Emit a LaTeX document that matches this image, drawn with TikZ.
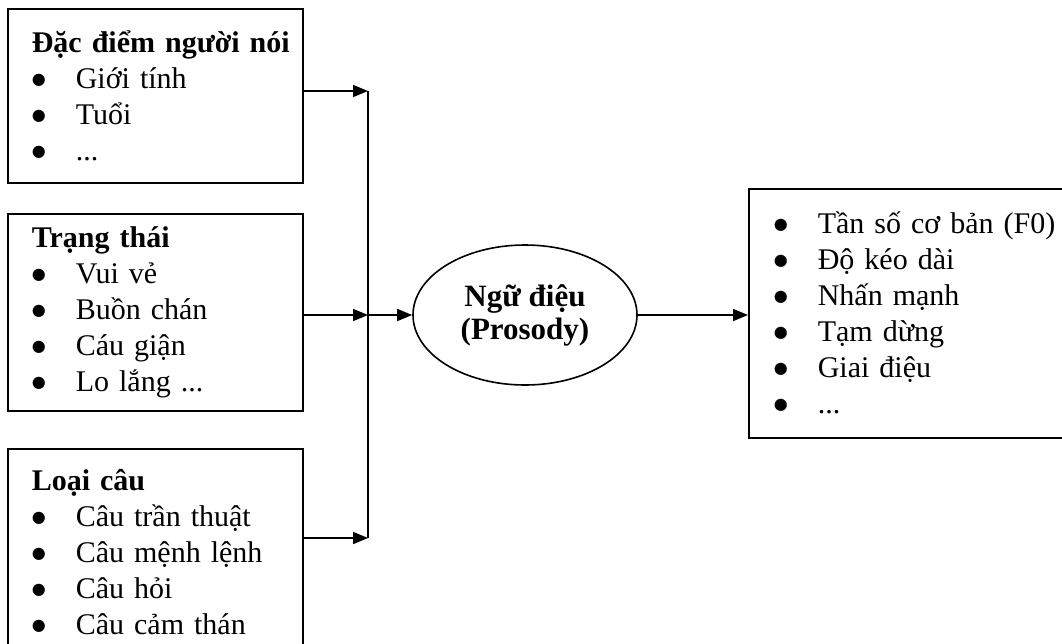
\documentclass[tikz,border=0pt]{standalone}
\usepackage{fontspec}
\setmainfont{Liberation Serif}
\newfontfamily\dotfont{DejaVu Sans}
\usetikzlibrary{shapes.geometric, arrows.meta, positioning, calc}
\newcommand{\itm}[1]{\makebox[44pt][l]{\raisebox{4pt}{\dotfont\fontsize{16}{16}\selectfont ●}}\mbox{#1}}
\tikzset{
  box/.style={rectangle, draw=black, line width=1.6pt, anchor=north west,
              text width=247pt, align=left, inner xsep=24pt, inner ysep=0pt,
              font=\fontsize{30}{36}\selectfont},
  prosody/.style={ellipse, draw=black, line width=1.6pt, minimum width=224pt,
                  minimum height=140pt, align=center,
                  font=\bfseries\fontsize{31}{33}\selectfont},
  arrow/.style={-{Triangle[length=15pt,width=12pt]}, line width=1.6pt},
  link/.style={line width=1.6pt},
}
\begin{document}
\begin{tikzpicture}[x=1pt, y=-1pt]
  \clip (0,0) rectangle (1062,643);
  % input boxes
  \node[box, minimum width=295pt, minimum height=174pt] (speaker) at (7,8)
    {\mbox{\textbf{Đặc điểm người nói}}\\ \itm{Giới tính}\\ \itm{Tuổi}\\ \itm{...}};
  \node[box, minimum width=295pt, minimum height=197pt] (state) at (7,213)
    {\textbf{Trạng thái}\\ \itm{Vui vẻ}\\ \itm{Buồn chán}\\ \itm{Cáu giận}\\ \itm{Lo lắng ...}};
  \node[box, minimum width=295pt, minimum height=206pt] (sentence) at (7,448)
    {\textbf{Loại câu}\\ \itm{Câu trần thuật}\\ \itm{Câu mệnh lệnh}\\ \itm{Câu hỏi}\\ \itm{Câu cảm thán}};
  % centre and output
  \node[prosody] (ngudieu) at (525,315) {Ngữ điệu\\(Prosody)};
  \node[box, text width=277pt, inner xsep=25pt, minimum width=327pt, minimum height=249pt] (features) at (748,188)
    {\itm{Tần số cơ bản (F0)}\\ \itm{Độ kéo dài}\\ \itm{Nhấn mạnh}\\ \itm{Tạm dừng}\\ \itm{Giai điệu}\\ \itm{...}};

  \coordinate (bustop) at (368,91);
  \coordinate (busmid) at (368,315);
  \coordinate (busbot) at (368,538);
  \draw[arrow] (speaker.east |- bustop) -- (bustop);
  \draw[arrow] (state.east |- busmid) -- (busmid);
  \draw[arrow] (sentence.east |- busbot) -- (busbot);
  \draw[link] (bustop) -- (busbot);
  \draw[arrow] (busmid) -- (ngudieu.west);
  \draw[arrow] (ngudieu.east) -- (ngudieu.east -| features.west);
\end{tikzpicture}
\end{document}
